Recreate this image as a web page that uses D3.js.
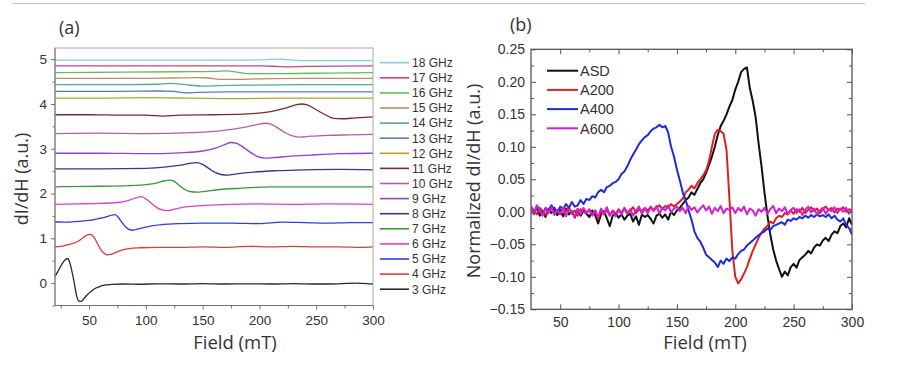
<!DOCTYPE html>
<html>
<head>
<meta charset="utf-8">
<script src="https://cdn.jsdelivr.net/npm/d3@7"></script>
<style>
  body { margin: 0; background: #fff; }
  svg { display: block; }
  .tick text { font-family: "Liberation Sans", Arial, sans-serif; fill: #333; }
  .title { font-family: "Open Sans", "Liberation Sans", sans-serif; fill: #333; }
  .leg { font-family: "Liberation Sans", Arial, sans-serif; fill: #333; }
</style>
</head>
<body>
<div id="chart"></div>
<script>
// ---- panel (a): field scans at each frequency, offset vertically ----
const freqLabels = ["3 GHz", "4 GHz", "5 GHz", "6 GHz", "7 GHz", "8 GHz", "9 GHz", "10 GHz",
  "11 GHz", "12 GHz", "13 GHz", "14 GHz", "15 GHz", "16 GHz", "17 GHz", "18 GHz"];
const freqColors = ["#2a2a2a", "#e03a3a", "#2a40e0", "#e040c8", "#3a9a3a", "#303a90", "#9040e0", "#b060b0",
  "#7a2a2a", "#b8a030", "#5a7ab8", "#50a8a8", "#b8905a", "#66bb55", "#d0407a", "#7fd0e6"];

const s3 = [[20,0.15],[23,0.28],[26,0.42],[29,0.52],[31,0.55],[33,0.46],[35,0.25],[37,0.0],[39,-0.28],[41,-0.4],[43,-0.41],[45,-0.36],[48,-0.27],[52,-0.18],[56,-0.11],[60,-0.07],[65,-0.04],[70,-0.03],[80,-0.02],[95,-0.025],[110,-0.015],[130,-0.02],[150,-0.01],[170,-0.02],[190,-0.015],[210,-0.02],[230,-0.01],[250,-0.02],[270,-0.015],[285,0.0],[295,-0.01],[300,-0.02]];
const s4 = [[20,0.81],[25,0.82],[30,0.85],[35,0.88],[40,0.93],[44,1.0],[48,1.07],[51,1.09],[54,1.04],[57,0.9],[60,0.76],[63,0.67],[66,0.63],[69,0.64],[73,0.68],[78,0.73],[85,0.77],[95,0.79],[110,0.8],[130,0.8],[150,0.81],[170,0.8],[190,0.82],[210,0.81],[230,0.82],[250,0.81],[270,0.81],[290,0.8],[300,0.81]];
const s5 = [[20,1.37],[30,1.36],[40,1.38],[50,1.4],[58,1.44],[65,1.48],[70,1.52],[73,1.53],[76,1.46],[79,1.35],[82,1.26],[85,1.2],[88,1.18],[92,1.2],[98,1.24],[105,1.28],[115,1.31],[130,1.33],[150,1.34],[175,1.34],[200,1.33],[220,1.36],[240,1.35],[260,1.34],[280,1.35],[300,1.35]];
const s6 = [[20,1.76],[40,1.77],[60,1.78],[75,1.8],[85,1.85],[92,1.91],[96,1.93],[100,1.88],[105,1.78],[110,1.68],[115,1.63],[119,1.62],[125,1.65],[135,1.7],[150,1.73],[175,1.76],[200,1.77],[230,1.76],[260,1.77],[300,1.76]];
const s7 = [[20,2.15],[50,2.16],[80,2.17],[100,2.2],[110,2.24],[116,2.28],[121,2.3],[125,2.27],[130,2.17],[135,2.08],[140,2.04],[145,2.03],[152,2.05],[165,2.09],[185,2.12],[210,2.15],[250,2.15],[300,2.15]];
const s8 = [[20,2.55],[60,2.55],[100,2.56],[120,2.6],[132,2.64],[140,2.68],[145,2.69],[150,2.65],[156,2.55],[162,2.46],[167,2.42],[172,2.41],[180,2.44],[195,2.48],[215,2.51],[240,2.53],[270,2.54],[300,2.53]];
const s9 = [[20,2.9],[60,2.9],[100,2.89],[130,2.91],[150,2.95],[162,3.02],[170,3.1],[175,3.14],[180,3.12],[186,3.03],[192,2.92],[198,2.83],[205,2.79],[212,2.8],[225,2.83],[245,2.86],[270,2.89],[300,2.9]];
const s10 = [[20,3.34],[60,3.35],[100,3.34],[140,3.36],[165,3.4],[185,3.47],[198,3.54],[205,3.57],[210,3.55],[217,3.45],[224,3.34],[230,3.28],[236,3.26],[245,3.28],[260,3.3],[280,3.31],[300,3.32]];
const s11 = [[20,3.76],[50,3.76],[80,3.75],[100,3.75],[115,3.73],[130,3.75],[160,3.76],[190,3.78],[210,3.83],[222,3.9],[232,3.98],[237,4.0],[242,3.98],[250,3.87],[258,3.76],[265,3.68],[272,3.67],[285,3.69],[300,3.71]];
const s12 = [[20,4.13],[60,4.13],[100,4.14],[140,4.13],[180,4.12],[220,4.13],[260,4.13],[300,4.13]];
const s13 = [[20,4.28],[70,4.28],[110,4.29],[125,4.28],[135,4.25],[145,4.26],[170,4.27],[220,4.27],[300,4.27]];
const s14 = [[20,4.43],[80,4.43],[110,4.44],[122,4.46],[135,4.43],[150,4.4],[165,4.41],[190,4.42],[240,4.43],[300,4.43]];
const s15 = [[20,4.57],[80,4.57],[120,4.58],[145,4.59],[155,4.58],[165,4.55],[180,4.55],[200,4.56],[240,4.57],[300,4.57]];
const s16 = [[20,4.7],[80,4.71],[130,4.72],[160,4.73],[172,4.74],[180,4.71],[190,4.68],[220,4.68],[260,4.69],[300,4.7]];
const s17 = [[20,4.85],[100,4.85],[180,4.85],[200,4.85],[215,4.84],[225,4.83],[240,4.84],[300,4.85]];
const s18 = [[20,4.98],[100,4.98],[180,4.98],[205,4.99],[215,5.0],[225,4.99],[240,4.97],[300,4.97]];
const seriesA = [s3, s4, s5, s6, s7, s8, s9, s10, s11, s12, s13, s14, s15, s16, s17, s18];

// ---- panel (b): normalized spectra, sampled every 2.5 mT from 25 to 300 ----
const sampleNames = ["ASD", "A200", "A400", "A600"];
const sampleColors = ["#111111", "#e02020", "#1e2cd8", "#d020d0"];
const fieldB = d3.range(25, 300.01, 2.5);
const asd = [
  0.005, -0.003, 0.008, -0.006, 0.002, -0.008, 0.004, -0.002, 0.006, -0.005,
  0.003, -0.007, 0.005, -0.004, 0.001, -0.009, 0.004, -0.006, 0.002, -0.003,
  -0.008, 0.002, -0.005, -0.018, -0.004, 0.001, -0.01, -0.022, -0.006, -0.002,
  -0.009, -0.004, -0.012, -0.006, -0.003, -0.015, -0.007, -0.02, -0.004, -0.008,
  -0.005, -0.011, -0.018, -0.006, -0.003, -0.009, -0.004, -0.012, 0.0, -0.005,
  0.002, 0.006, 0.012, 0.018, 0.022, 0.03, 0.026, 0.035, 0.044, 0.05,
  0.06, 0.072, 0.085, 0.1, 0.118, 0.132, 0.14, 0.15, 0.162, 0.172,
  0.188, 0.2, 0.215, 0.22, 0.222, 0.19, 0.17, 0.145, 0.105, 0.07,
  0.03, -0.005, -0.035, -0.058, -0.075, -0.088, -0.1, -0.092, -0.098, -0.085,
  -0.08, -0.086, -0.074, -0.07, -0.066, -0.06, -0.064, -0.055, -0.05, -0.052,
  -0.044, -0.04, -0.045, -0.035, -0.03, -0.033, -0.022, -0.018, -0.024, -0.01,
  -0.02];
const a200 = [
  0.008, 0.002, -0.004, 0.006, 0.001, -0.005, 0.004, 0.009, -0.002, 0.003,
  -0.004, 0.005, 0.001, 0.007, -0.003, 0.002, -0.006, 0.004, 0.0, -0.002,
  0.003, -0.005, 0.002, -0.01, 0.001, -0.004, 0.003, -0.006, 0.002, -0.003,
  0.004, -0.002, 0.006, -0.003, 0.002, 0.007, -0.002, 0.004, 0.001, 0.006,
  0.002, 0.008, 0.003, 0.006, 0.01, 0.004, 0.009, 0.006, 0.012, 0.008,
  0.012, 0.016, 0.02, 0.03, 0.034, 0.04, 0.036, 0.044, 0.05, 0.056,
  0.064, 0.078, 0.1, 0.12, 0.126, 0.124, 0.12, 0.095, 0.02, -0.06,
  -0.1, -0.11, -0.104, -0.095, -0.085, -0.072, -0.06, -0.05, -0.04, -0.032,
  -0.026, -0.022, -0.015, -0.018, -0.01, -0.006, -0.008, -0.002, -0.004, 0.002,
  -0.003, 0.004, 0.0, 0.006, -0.002, 0.003, 0.007, 0.001, 0.005, -0.002,
  0.004, 0.008, 0.002, 0.006, -0.001, 0.005, 0.003, 0.007, 0.0, 0.004,
  0.002];
const a400 = [
  0.005, -0.003, 0.008, 0.002, -0.004, 0.006, 0.001, 0.01, 0.003, -0.002,
  0.008, 0.004, 0.012, 0.006, 0.015, 0.008, 0.01, 0.018, 0.012, 0.02,
  0.018, 0.024, 0.022, 0.03, 0.034, 0.03, 0.038, 0.04, 0.044, 0.046,
  0.05, 0.058, 0.062, 0.07, 0.08, 0.088, 0.096, 0.104, 0.11, 0.115,
  0.118, 0.124, 0.128, 0.13, 0.134, 0.13, 0.132, 0.122, 0.1, 0.085,
  0.065, 0.048, 0.03, 0.018, 0.002, -0.012, -0.03, -0.04, -0.046, -0.055,
  -0.066, -0.07, -0.074, -0.078, -0.085, -0.075, -0.08, -0.072, -0.076, -0.07,
  -0.072, -0.065, -0.06, -0.058, -0.052, -0.048, -0.044, -0.04, -0.036, -0.033,
  -0.03, -0.026, -0.028, -0.022, -0.02, -0.018, -0.016, -0.02, -0.012, -0.014,
  -0.01, -0.012, -0.008, -0.01, -0.006, -0.009, -0.005, -0.008, -0.004, -0.007,
  -0.005, -0.008, -0.004, -0.01, -0.006, -0.012, -0.015, -0.01, -0.02, -0.025,
  -0.035];
const a600 = [
  0.008, -0.004, 0.01, 0.002, -0.006, 0.005, -0.002, 0.007, -0.005, 0.003,
  -0.003, 0.006, -0.007, 0.004, 0.0, -0.008, 0.005, -0.004, 0.006, -0.002,
  0.004, -0.006, 0.002, -0.009, 0.005, -0.003, 0.007, -0.005, 0.001, -0.007,
  0.003, -0.004, 0.006, -0.002, 0.004, -0.006, 0.002, 0.008, -0.003, 0.005,
  -0.002, 0.007, 0.001, 0.009, -0.003, 0.006, 0.002, 0.01, -0.001, 0.005,
  0.008, 0.001, 0.006, -0.002, 0.009, 0.003, 0.007, -0.001, 0.005, 0.01,
  0.002, 0.008, -0.003, 0.006, 0.001, 0.009, -0.002, 0.005, 0.003, 0.007,
  -0.002, 0.006, 0.001, 0.008, -0.004, 0.005, 0.002, -0.006, 0.004, 0.0,
  0.006, -0.003, 0.004, 0.009, -0.002, 0.005, 0.001, 0.007, -0.004, 0.003,
  0.006, -0.002, 0.004, -0.005, 0.003, 0.008, -0.001, 0.005, -0.004, 0.002,
  0.006, -0.003, 0.004, 0.001, 0.007, -0.002, 0.005, 0.0, 0.006, -0.003,
  0.004];
const seriesB = [asd, a200, a400, a600];

const xTicks = [50, 100, 150, 200, 250, 300];
const xMinor = [25, 75, 125, 175, 225, 275];
const yTicksA = [0, 1, 2, 3, 4, 5];
const yMinorA = [-0.5, 0.5, 1.5, 2.5, 3.5, 4.5];
const yTicksB = [-0.15, -0.10, -0.05, 0.00, 0.05, 0.10, 0.15, 0.20, 0.25];
const yMinorB = [-0.125, -0.075, -0.025, 0.025, 0.075, 0.125, 0.175, 0.225];

const width = 904, height = 373;
const svg = d3.select("#chart").append("svg")
  .attr("width", width)
  .attr("height", height);

// thin rule at the top of the page
svg.append("line")
  .attr("x1", 12).attr("x2", 865).attr("y1", 3.5).attr("y2", 3.5)
  .attr("stroke", "#c4c4c4").attr("stroke-width", 1.2);

function styleAxis(g, color, size) {
  g.select(".domain").remove();
  g.selectAll(".tick line").attr("stroke", color).attr("stroke-width", 1);
  g.selectAll(".tick text").attr("font-size", size);
}

// ================= panel (a) =================
const a = { left: 55, right: 373, top: 48, bottom: 305.5 };
const xA = d3.scaleLinear().domain([20, 300]).range([a.left, a.right]);
const yA = d3.scaleLinear().domain([-0.5, 5.25]).range([a.bottom, a.top]);

svg.append("defs").append("clipPath").attr("id", "clipA")
  .append("rect").attr("x", a.left).attr("y", a.top)
  .attr("width", a.right - a.left).attr("height", a.bottom - a.top);

const gA = svg.append("g");
const lineA = d3.line().x(d => xA(d[0])).y(d => yA(d[1])).curve(d3.curveMonotoneX);

gA.append("g").attr("clip-path", "url(#clipA)")
  .selectAll("path").data(seriesA).join("path")
  .attr("d", lineA)
  .attr("fill", "none")
  .attr("stroke", (d, i) => freqColors[i])
  .attr("stroke-width", 1.3);

// frame
gA.append("rect")
  .attr("x", a.left).attr("y", a.top)
  .attr("width", a.right - a.left).attr("height", a.bottom - a.top)
  .attr("fill", "none").attr("stroke", "#a8a8a8").attr("stroke-width", 1);
gA.append("line").attr("x1", a.left).attr("x2", a.left).attr("y1", a.top).attr("y2", a.bottom)
  .attr("stroke", "#707070");
gA.append("line").attr("x1", a.left).attr("x2", a.right).attr("y1", a.bottom).attr("y2", a.bottom)
  .attr("stroke", "#707070");

gA.append("g").attr("transform", `translate(${a.left},0)`)
  .call(d3.axisLeft(yA).tickValues(yTicksA).tickFormat(d3.format("d")).tickSize(4).tickPadding(4))
  .call(g => styleAxis(g, "#707070", 13.5));
gA.append("g").attr("transform", `translate(${a.left},0)`)
  .call(d3.axisLeft(yA).tickValues(yMinorA).tickFormat("").tickSize(2.5))
  .call(g => styleAxis(g, "#707070", 13));
gA.append("g").attr("transform", `translate(0,${a.bottom})`)
  .call(d3.axisBottom(xA).tickValues(xTicks).tickSize(4).tickPadding(6))
  .call(g => styleAxis(g, "#707070", 13.5));
gA.append("g").attr("transform", `translate(0,${a.bottom})`)
  .call(d3.axisBottom(xA).tickValues(xMinor).tickFormat("").tickSize(3))
  .call(g => styleAxis(g, "#707070", 13));

gA.append("text").attr("class", "title")
  .attr("x", 59).attr("y", 34).attr("font-size", 18).text("(a)");
gA.append("text").attr("class", "title")
  .attr("text-anchor", "middle").attr("font-size", 18.5)
  .attr("x", 235).attr("y", 349)
  .text("Field (mT)");
gA.append("text").attr("class", "title")
  .attr("text-anchor", "middle").attr("font-size", 18)
  .attr("transform", `translate(28,179) rotate(-90)`)
  .text("dI/dH (a.u.)");

// legend (a): 18 GHz on top
const legA = gA.append("g");
const legOrder = d3.range(freqLabels.length).reverse();
legOrder.forEach((k, row) => {
  const y = 62.7 + row * 15.1;
  legA.append("line").attr("x1", 380).attr("x2", 409).attr("y1", y).attr("y2", y)
    .attr("stroke", freqColors[k]).attr("stroke-width", 1.6);
  legA.append("text").attr("class", "leg").attr("font-size", 12)
    .attr("x", 412).attr("y", y).attr("dy", "0.36em").text(freqLabels[k]);
});

// ================= panel (b) =================
const b = { left: 531, right: 852, top: 49.3, bottom: 309.3 };
const xB = d3.scaleLinear().domain([25, 300]).range([b.left, b.right]);
const yB = d3.scaleLinear().domain([-0.15, 0.25]).range([b.bottom, b.top]);

svg.select("defs").append("clipPath").attr("id", "clipB")
  .append("rect").attr("x", b.left).attr("y", b.top)
  .attr("width", b.right - b.left).attr("height", b.bottom - b.top);

const gB = svg.append("g");
const lineB = d3.line().x((d, i) => xB(fieldB[i])).y(d => yB(d));

gB.append("g").attr("clip-path", "url(#clipB)")
  .selectAll("path").data(seriesB).join("path")
  .attr("d", lineB)
  .attr("fill", "none")
  .attr("stroke", (d, i) => sampleColors[i])
  .attr("stroke-width", 2)
  .attr("stroke-linejoin", "round");

gB.append("rect")
  .attr("x", b.left).attr("y", b.top)
  .attr("width", b.right - b.left).attr("height", b.bottom - b.top)
  .attr("fill", "none").attr("stroke", "#555").attr("stroke-width", 1.3);

// inward ticks on all four sides
gB.append("g").attr("transform", `translate(${b.left},0)`)
  .call(d3.axisLeft(yB).tickValues(yTicksB).tickFormat(d3.format(".2f")).tickSize(-5).tickPadding(6))
  .call(g => styleAxis(g, "#555", 14));
gB.append("g").attr("transform", `translate(${b.left},0)`)
  .call(d3.axisLeft(yB).tickValues(yMinorB).tickFormat("").tickSize(-3))
  .call(g => styleAxis(g, "#555", 14));
gB.append("g").attr("transform", `translate(${b.right},0)`)
  .call(d3.axisRight(yB).tickValues(yTicksB).tickFormat("").tickSize(-5))
  .call(g => styleAxis(g, "#555", 14));
gB.append("g").attr("transform", `translate(${b.right},0)`)
  .call(d3.axisRight(yB).tickValues(yMinorB).tickFormat("").tickSize(-3))
  .call(g => styleAxis(g, "#555", 14));
gB.append("g").attr("transform", `translate(0,${b.bottom})`)
  .call(d3.axisBottom(xB).tickValues(xTicks).tickSize(-5).tickPadding(8))
  .call(g => styleAxis(g, "#555", 14));
gB.append("g").attr("transform", `translate(0,${b.bottom})`)
  .call(d3.axisBottom(xB).tickValues(xMinor.slice(1)).tickFormat("").tickSize(-3))
  .call(g => styleAxis(g, "#555", 14));
gB.append("g").attr("transform", `translate(0,${b.top})`)
  .call(d3.axisTop(xB).tickValues(xTicks).tickFormat("").tickSize(-5))
  .call(g => styleAxis(g, "#555", 14));
gB.append("g").attr("transform", `translate(0,${b.top})`)
  .call(d3.axisTop(xB).tickValues(xMinor.slice(1)).tickFormat("").tickSize(-3))
  .call(g => styleAxis(g, "#555", 14));

gB.append("text").attr("class", "title")
  .attr("x", 510).attr("y", 31).attr("font-size", 18).text("(b)");
gB.append("text").attr("class", "title")
  .attr("text-anchor", "middle").attr("font-size", 18.5)
  .attr("x", 705).attr("y", 349)
  .text("Field (mT)");
gB.append("text").attr("class", "title")
  .attr("text-anchor", "middle").attr("font-size", 18)
  .attr("transform", `translate(480,181) rotate(-90)`)
  .text("Normalized dI/dH (a.u.)");

const legB = gB.append("g");
sampleNames.forEach((name, i) => {
  const y = 70.7 + i * 19.2;
  legB.append("line").attr("x1", 547).attr("x2", 578).attr("y1", y).attr("y2", y)
    .attr("stroke", sampleColors[i]).attr("stroke-width", 2);
  legB.append("text").attr("class", "leg").attr("font-size", 14.5)
    .attr("x", 580).attr("y", y).attr("dy", "0.36em").text(name);
});
</script>
</body>
</html>
